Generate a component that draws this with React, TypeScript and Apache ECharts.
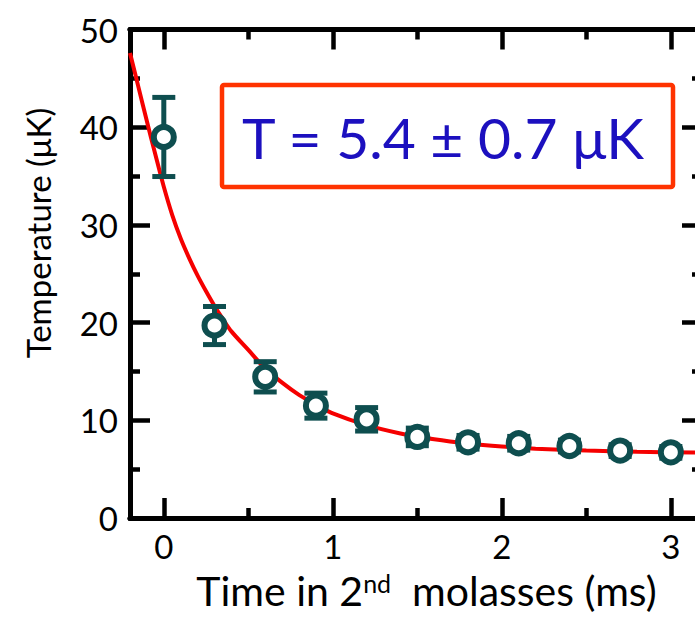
import React, { useEffect, useRef } from "react";
import * as echarts from "echarts";

const timeMs = [0, 0.3, 0.6, 0.9, 1.2, 1.5, 1.8, 2.1, 2.4, 2.7, 3.0];
const tempUK = [39.0, 19.7, 14.45, 11.5, 10.1, 8.3, 7.75, 7.65, 7.37, 6.9, 6.72];
const tempErr = [4.05, 1.95, 1.55, 1.28, 1.2, 0.9, 0.7, 0.7, 0.6, 0.6, 0.6];

const fitTime = [-0.2, -0.15, -0.1, -0.05, 0, 0.05, 0.1, 0.15, 0.2, 0.25, 0.3, 0.35, 0.4, 0.5, 0.6, 0.7, 0.8, 0.9, 1.0, 1.2, 1.4, 1.6, 1.8, 2.0, 2.2, 2.5, 2.8, 3.15];
const fitTemp = [47.6, 44.1, 40.6, 37.2, 33.9, 31.0, 28.6, 26.6, 24.8, 23.2, 21.7, 20.35, 19.1, 17.2, 15.3, 13.85, 12.6, 11.6, 10.7, 9.5, 8.65, 8.05, 7.62, 7.32, 7.1, 6.9, 6.78, 6.69];

const xMajor = [0, 1, 2, 3];
const xMinor = [0.5, 1.5, 2.5];

const annotationText = "T = 5.4 ± 0.7 μK";
const yTitle = "Temperature (μK)";

const FONT = "Lato";
const TEAL = "#0E4E4F";

export default function App() {
  const ref = useRef<HTMLDivElement>(null);
  useEffect(() => {
    document.body.style.margin = "0";
    document.body.style.overflow = "hidden";
    const chart = echarts.init(ref.current!, null, { renderer: "svg" });
    const axisLine = { show: true, onZero: false, lineStyle: { color: "#000", width: 5 } };
    const baseX = {
      type: "value" as const,
      min: -0.2,
      max: 3.143,
      splitLine: { show: false },
      axisLine,
    };
    chart.setOption({
      animation: false,
      backgroundColor: "#fff",
      grid: { left: 130, right: 0, top: 29.5, bottom: 100, containLabel: false },
      xAxis: [
        {
          ...baseX,
          position: "bottom",
          axisTick: { show: true, inside: true, length: 20, customValues: xMajor, lineStyle: { width: 4.5, color: "#000" } },
          axisLabel: { show: true, customValues: xMajor, color: "#000", fontFamily: FONT, fontSize: 33, margin: 11 },
          name: "Time in 2{sup|nd}  molasses (ms)",
          nameLocation: "middle",
          nameGap: 52,
          nameTextStyle: {
            color: "#000",
            fontFamily: FONT,
            fontSize: 41,
            padding: [0, 0, 0, 28],
            rich: {
              sup: { fontFamily: FONT, fontSize: 25, verticalAlign: "top", color: "#000", padding: [0, 0, 16, 0] },
            },
          },
        },
        {
          ...baseX,
          position: "bottom",
          axisTick: { show: true, inside: true, length: 10, customValues: xMinor, lineStyle: { width: 4.5, color: "#000" } },
          axisLabel: { show: false },
        },
        {
          ...baseX,
          position: "top",
          axisTick: { show: true, inside: true, length: 20, customValues: xMajor, lineStyle: { width: 4.5, color: "#000" } },
          axisLabel: { show: false },
        },
        {
          ...baseX,
          position: "top",
          axisTick: { show: true, inside: true, length: 10, customValues: xMinor, lineStyle: { width: 4.5, color: "#000" } },
          axisLabel: { show: false },
        },
      ],
      yAxis: [
        {
          type: "value",
          min: 0,
          max: 50,
          interval: 10,
          position: "left",
          splitLine: { show: false },
          axisLine,
          axisTick: { show: true, inside: true, length: 20, lineStyle: { width: 4.5, color: "#000" } },
          minorTick: { show: true, splitNumber: 2, length: 10, lineStyle: { width: 4.5, color: "#000" } },
          axisLabel: { show: true, color: "#000", fontFamily: FONT, fontSize: 33, margin: 12 },
        },
        {
          type: "value",
          min: 0,
          max: 50,
          interval: 10,
          position: "right",
          splitLine: { show: false },
          axisLine: { show: false, onZero: false },
          axisTick: { show: true, inside: true, length: 13, lineStyle: { width: 4.5, color: "#000" } },
          minorTick: { show: true, splitNumber: 2, length: 3, lineStyle: { width: 4.5, color: "#000" } },
          axisLabel: { show: false },
        },
      ],
      graphic: [
        {
          type: "rect",
          shape: { x: 222, y: 85, width: 451, height: 102, r: 2 },
          style: { fill: "#fff", stroke: "#FF3300", lineWidth: 4.5 },
          z: 10,
        },
        {
          type: "text",
          x: 443,
          y: 137,
          style: {
            text: annotationText,
            fill: "#1C10BF",
            fontFamily: FONT,
            fontSize: 57,
            align: "center",
            verticalAlign: "middle",
          },
          z: 11,
        },
        {
          type: "text",
          x: 38,
          y: 233,
          rotation: Math.PI / 2,
          style: {
            text: yTitle,
            fill: "#000",
            fontFamily: FONT,
            fontSize: 33,
            align: "center",
            verticalAlign: "middle",
          },
        },
      ],
      series: [
        {
          type: "line",
          xAxisIndex: 0,
          yAxisIndex: 0,
          data: fitTime.map((t, i) => [t, fitTemp[i]]),
          smooth: 0.3,
          showSymbol: false,
          lineStyle: { color: "#F50000", width: 4 },
          z: 2,
        },
        {
          type: "custom",
          xAxisIndex: 0,
          yAxisIndex: 0,
          data: timeMs.map((t, i) => [t, tempUK[i] - tempErr[i], tempUK[i] + tempErr[i]]),
          renderItem: (params: any, api: any) => {
            const x = api.value(0);
            const lo = api.coord([x, api.value(1)]);
            const hi = api.coord([x, api.value(2)]);
            const hw = 11.5;
            const st = { stroke: TEAL, lineWidth: 5 };
            return {
              type: "group",
              children: [
                { type: "line", shape: { x1: lo[0], y1: lo[1], x2: hi[0], y2: hi[1] }, style: st },
                { type: "line", shape: { x1: lo[0] - hw, y1: lo[1], x2: lo[0] + hw, y2: lo[1] }, style: st },
                { type: "line", shape: { x1: hi[0] - hw, y1: hi[1], x2: hi[0] + hw, y2: hi[1] }, style: st },
              ],
            };
          },
          z: 3,
        },
        {
          type: "scatter",
          xAxisIndex: 0,
          yAxisIndex: 0,
          data: timeMs.map((t, i) => [t, tempUK[i]]),
          symbol: "circle",
          symbolSize: 20,
          itemStyle: { color: "#fff", borderColor: TEAL, borderWidth: 6, opacity: 1 },
          z: 4,
        },
      ],
    });
    return () => chart.dispose();
  }, []);
  return <div ref={ref} style={{ width: 695, height: 618 }} />;
}
